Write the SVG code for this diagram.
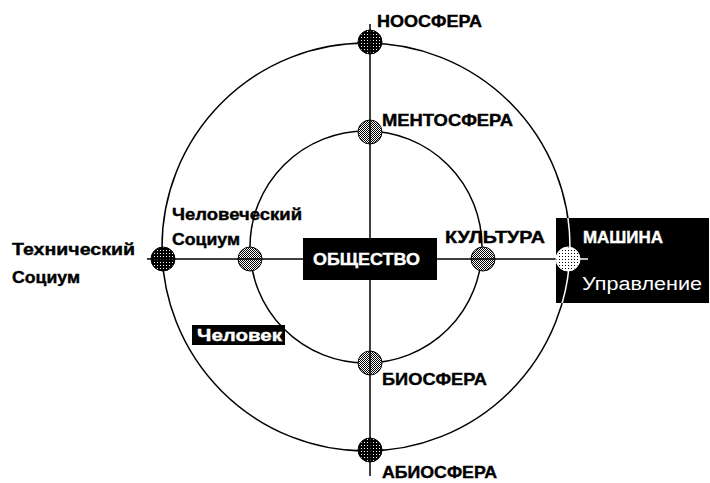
<svg xmlns="http://www.w3.org/2000/svg" width="710" height="483" viewBox="0 0 710 483">
<defs>
<style>
.orbit{fill:none;stroke:#000;stroke-width:1.5}
.axis{stroke:#000;stroke-width:1.5}
.lbl{font-family:"Liberation Sans",Arial,sans-serif;font-weight:bold;font-size:17px;fill:#000;stroke:#000;stroke-width:0.4}
.wlbl{font-family:"Liberation Sans",Arial,sans-serif;font-weight:bold;font-size:17px;fill:#fff;stroke:#fff;stroke-width:0.4}
.wreg{font-family:"Liberation Sans",Arial,sans-serif;font-size:18px;fill:#fff}
.node{stroke:#000;stroke-width:1}
.dark{fill:url(#pDark)}
.gray{fill:url(#pGray)}
</style>
<pattern id="pDark" width="3" height="3" patternUnits="userSpaceOnUse">
<rect width="3" height="3" fill="#000"/>
<rect x="1" y="1" width="1" height="1" fill="#fff"/>
</pattern>
<pattern id="pGray" width="2" height="2" patternUnits="userSpaceOnUse">
<rect width="2" height="2" fill="#fff"/>
<rect width="1" height="1" fill="#000"/>
<rect x="1" y="1" width="1" height="1" fill="#000"/>
</pattern>
<pattern id="pDots" width="3" height="3" patternUnits="userSpaceOnUse">
<rect width="3" height="3" fill="#fff"/>
<rect x="1" y="1" width="1" height="1" fill="#000"/>
</pattern>
<clipPath id="boxClip"><rect x="556" y="218" width="153" height="85"/></clipPath>
</defs>
<rect width="710" height="483" fill="#fff"/>

<g id="orbits">
<circle class="orbit" cx="366" cy="247" r="204"/>
<circle class="orbit" cx="366" cy="247" r="116"/>
</g>

<g id="node-noosfera">
<circle class="node dark" cx="370" cy="42" r="12"/>
<text class="lbl" x="377" y="27" textLength="105" lengthAdjust="spacingAndGlyphs">НООСФЕРА</text>
</g>
<g id="node-mentosfera">
<circle class="node gray" cx="370" cy="132" r="12"/>
<text class="lbl" x="382" y="126" textLength="131" lengthAdjust="spacingAndGlyphs">МЕНТОСФЕРА</text>
</g>
<g id="node-biosfera">
<circle class="node gray" cx="370" cy="363" r="12"/>
<text class="lbl" x="382" y="385" textLength="105" lengthAdjust="spacingAndGlyphs">БИОСФЕРА</text>
</g>
<g id="node-abiosfera">
<circle class="node dark" cx="370" cy="450" r="12"/>
<text class="lbl" x="382" y="478" textLength="115" lengthAdjust="spacingAndGlyphs">АБИОСФЕРА</text>
</g>
<g id="node-tech">
<circle class="node dark" cx="163" cy="259" r="12"/>
<text class="lbl" x="12" y="255" textLength="123" lengthAdjust="spacingAndGlyphs">Технический</text>
<text class="lbl" x="12" y="283" textLength="68" lengthAdjust="spacingAndGlyphs">Социум</text>
</g>
<g id="node-human-soc">
<circle class="node gray" cx="250" cy="259" r="12"/>
<text class="lbl" x="172" y="220" textLength="130" lengthAdjust="spacingAndGlyphs">Человеческий</text>
<text class="lbl" x="172" y="245" textLength="68" lengthAdjust="spacingAndGlyphs">Социум</text>
</g>
<g id="node-kultura">
<circle class="node gray" cx="483" cy="259" r="12"/>
<text class="lbl" x="445" y="243" textLength="100" lengthAdjust="spacingAndGlyphs">КУЛЬТУРА</text>
</g>

<g id="connectors">
<line class="axis" x1="370" y1="24" x2="370" y2="476"/>
<line class="axis" x1="147" y1="259" x2="588" y2="259"/>
</g>

<g id="node-obshestvo">
<rect x="303" y="238" width="134" height="42" fill="#000"/>
<text class="wlbl" x="313" y="265" textLength="107" lengthAdjust="spacingAndGlyphs">ОБЩЕСТВО</text>
</g>

<g id="node-chelovek">
<rect x="192" y="325" width="93" height="20" fill="#000"/>
<text class="wlbl" x="197" y="341" textLength="85" lengthAdjust="spacingAndGlyphs">Человек</text>
</g>

<g id="node-mashina">
<rect x="556" y="218" width="153" height="85" fill="#000"/>
<g clip-path="url(#boxClip)">
<circle cx="366" cy="247" r="204" fill="none" stroke="#fff" stroke-width="1.5"/>
<line x1="556" y1="259" x2="588" y2="259" stroke="#fff" stroke-width="1.5"/>
</g>
<circle cx="568" cy="259" r="12" fill="url(#pDots)" stroke="#fff" stroke-width="1"/>
<text class="wlbl" x="583" y="243" textLength="80" lengthAdjust="spacingAndGlyphs">МАШИНА</text>
<text class="wreg" x="582" y="290" textLength="120" lengthAdjust="spacingAndGlyphs">Управление</text>
</g>
</svg>
